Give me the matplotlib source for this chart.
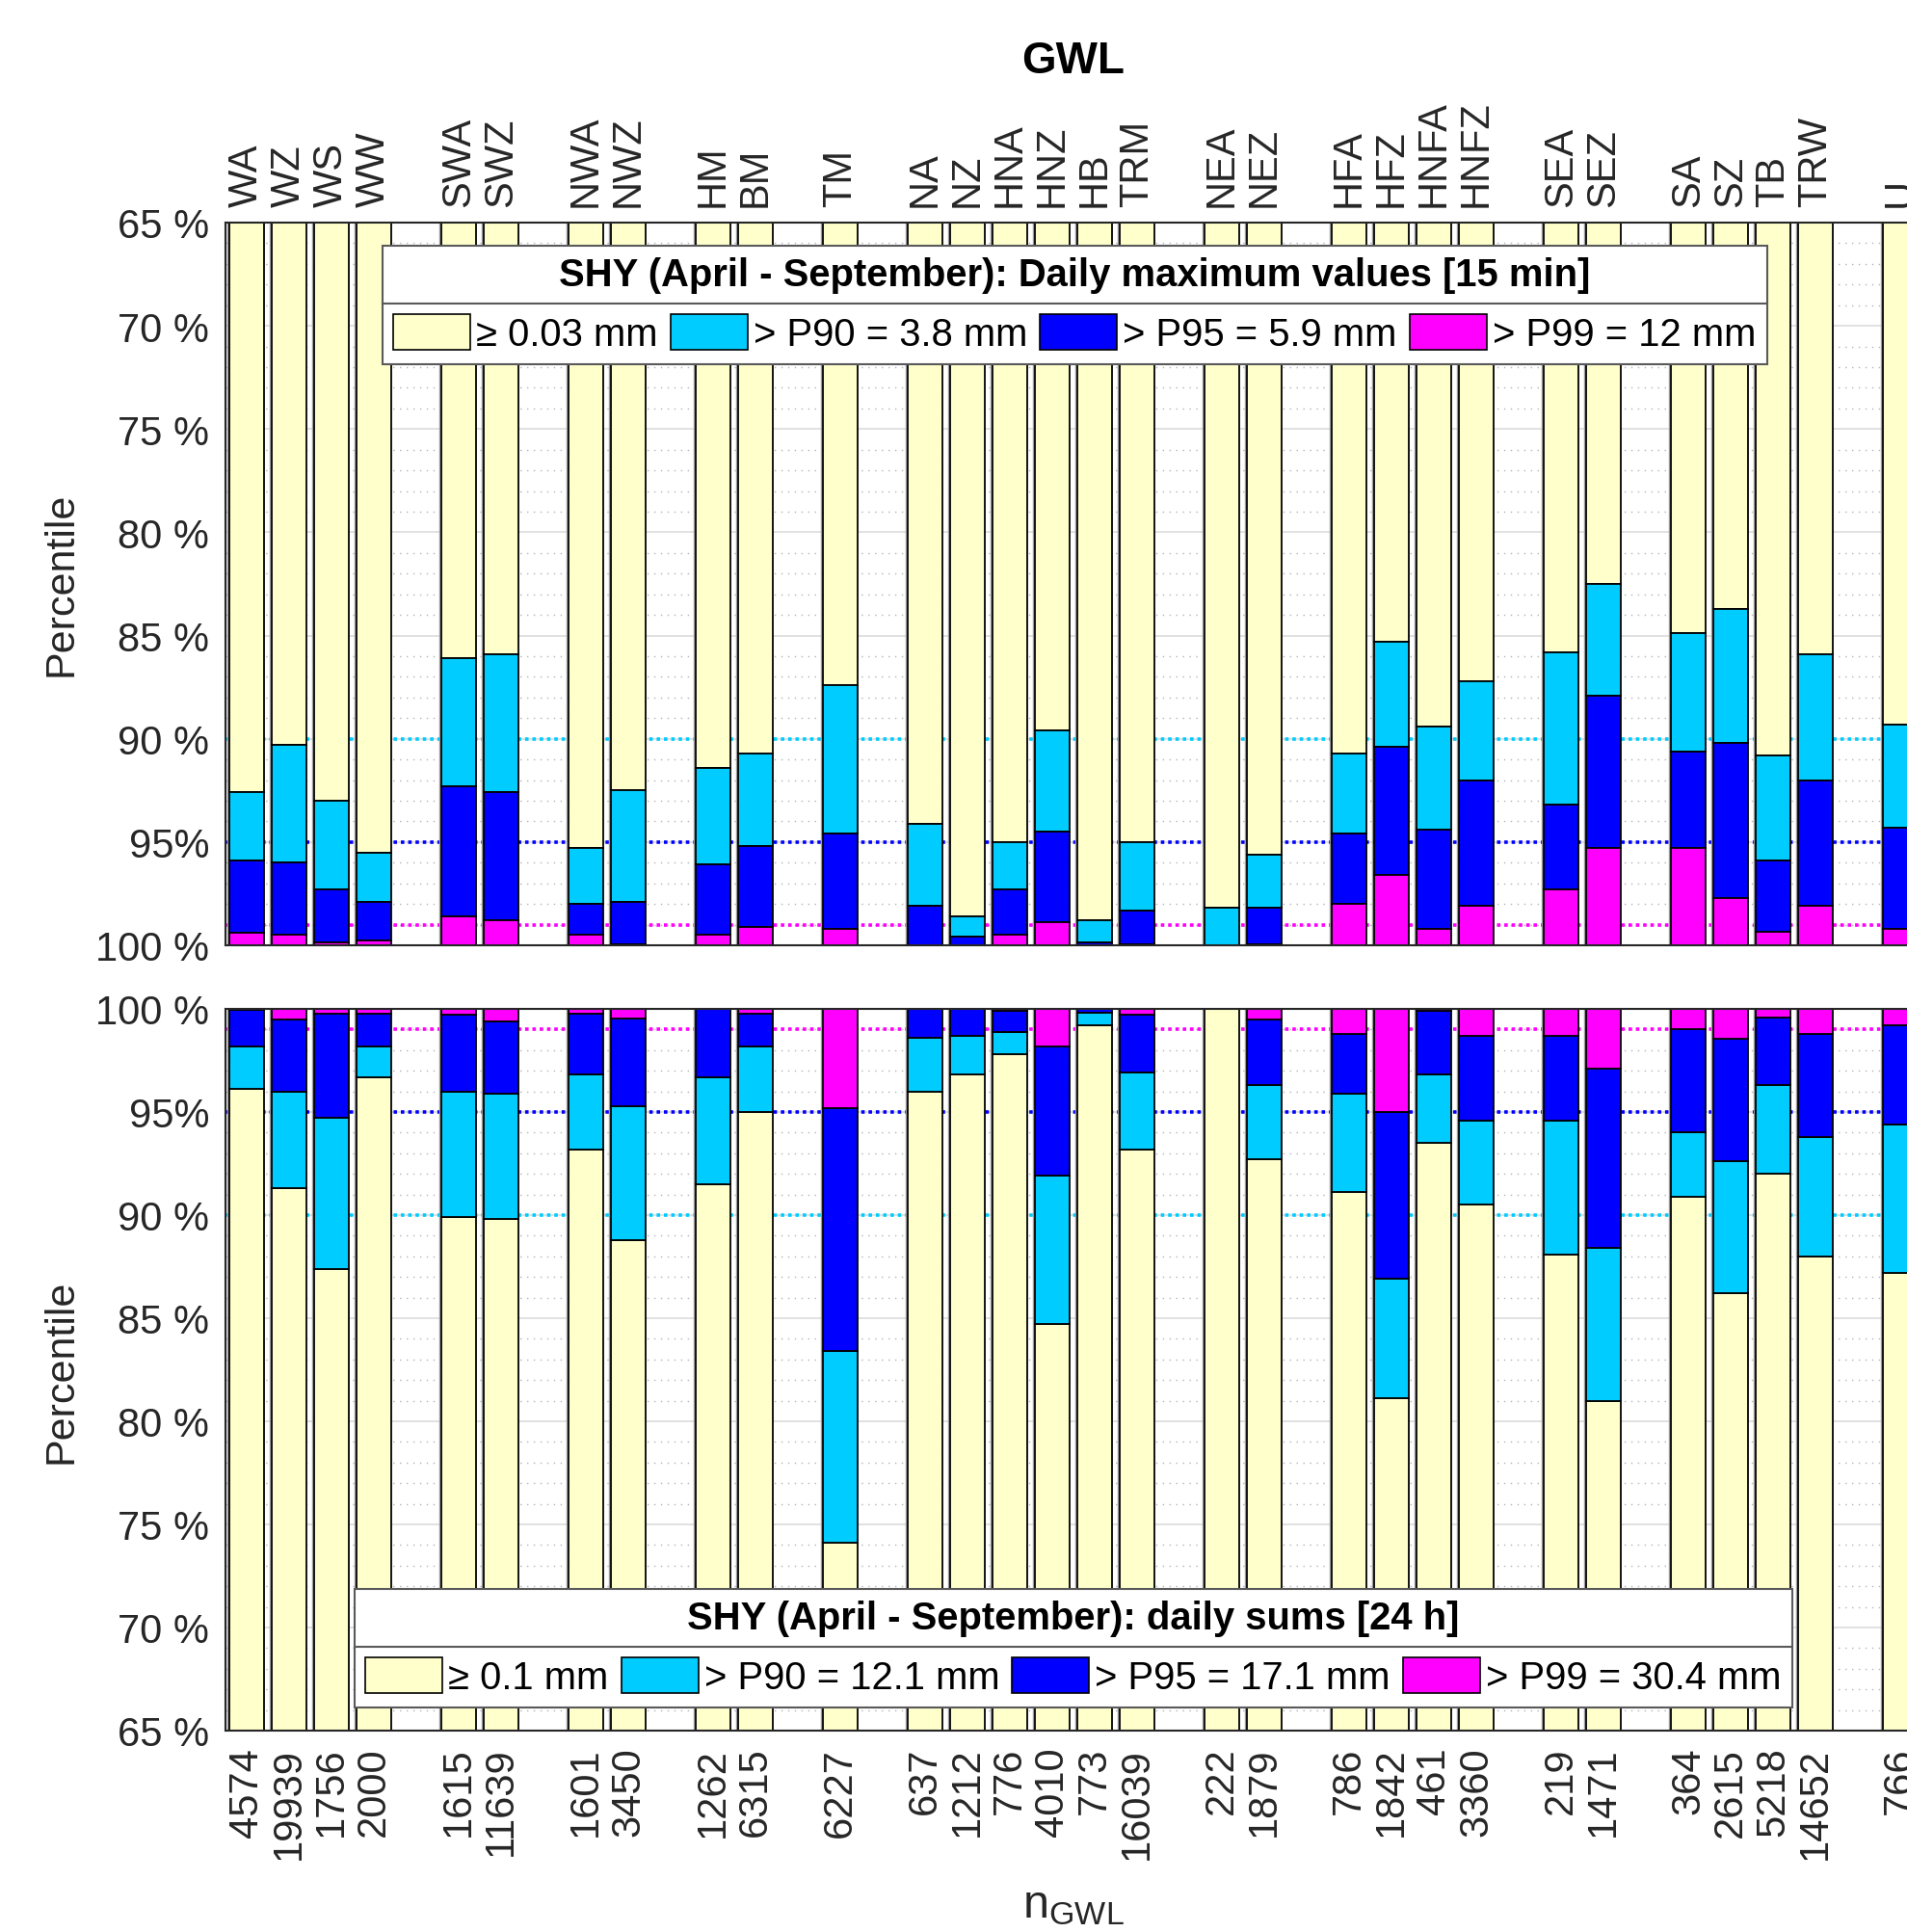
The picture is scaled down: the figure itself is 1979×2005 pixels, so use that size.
import numpy as np
import matplotlib.pyplot as plt
from matplotlib.patches import Patch
from matplotlib.lines import Line2D

plt.rcParams['font.family'] = ['Liberation Sans', 'DejaVu Sans']

# weather types (GWL), one gap between groups
gwl_groups = [
    ['WA', 'WZ', 'WS', 'WW'], ['SWA', 'SWZ'], ['NWA', 'NWZ'], ['HM', 'BM'], ['TM'],
    ['NA', 'NZ', 'HNA', 'HNZ', 'HB', 'TRM'], ['NEA', 'NEZ'], ['HFA', 'HFZ', 'HNFA', 'HNFZ'],
    ['SEA', 'SEZ'], ['SA', 'SZ', 'TB', 'TRW'], ['U'],
]
n_gwl = [4574, 19939, 1756, 2000, 1615, 11639, 1601, 3450, 1262, 6315, 6227,
         637, 1212, 776, 4010, 773, 16039, 222, 1879, 786, 1842, 461, 3360,
         219, 1471, 364, 2615, 5218, 14652, 766]

# percentile at which each class starts: daily maximum values [15 min]
max15_p90 = [92.6, 90.3, 93.0, 95.5, 86.1, 85.9, 95.3, 92.5, 91.4, 90.7, 87.4,
             94.1, 98.6, 95.0, 89.6, 98.8, 95.0, 98.2, 95.6, 90.7, 85.3, 89.4, 87.2,
             85.8, 82.5, 84.9, 83.7, 90.8, 85.9, 89.3]
max15_p95 = [95.9, 96.0, 97.3, 97.9, 92.3, 92.6, 98.0, 97.9, 96.1, 95.2, 94.6,
             98.1, 99.6, 97.3, 94.5, 99.85, 98.3, 100, 98.2, 94.6, 90.4, 94.4, 92.0,
             93.2, 87.9, 90.6, 90.2, 95.9, 92.0, 94.3]
max15_p99 = [99.4, 99.5, 99.86, 99.76, 98.6, 98.8, 99.5, 99.95, 99.5, 99.1, 99.2,
             100, 100, 99.5, 98.9, 100, 99.95, 100, 99.95, 98.0, 96.6, 99.2, 98.1,
             97.3, 95.3, 95.3, 97.7, 99.35, 98.1, 99.2]

# daily sums [24 h]
sum24_p90 = [96.1, 91.3, 87.4, 96.7, 89.9, 89.8, 93.2, 88.8, 91.5, 95.0, 74.1,
             96.0, 96.8, 97.8, 84.7, 99.2, 93.2, 100, 92.7, 91.1, 81.1, 93.5, 90.5,
             88.1, 81.0, 90.9, 86.2, 92.0, 88.0, 87.2]
sum24_p95 = [98.2, 96.0, 94.7, 98.2, 96.0, 95.9, 96.8, 95.3, 96.7, 98.2, 83.4,
             98.6, 98.7, 98.9, 91.9, 99.8, 96.9, 100, 96.3, 95.9, 86.9, 96.8, 94.6,
             94.6, 88.4, 94.0, 92.6, 96.3, 93.8, 94.4]
sum24_p99 = [99.95, 99.5, 99.75, 99.75, 99.7, 99.4, 99.75, 99.55, 100, 99.75, 95.2,
             100, 100, 99.9, 98.2, 100, 99.7, 100, 99.5, 98.8, 95.0, 99.9, 98.7,
             98.7, 97.1, 99.0, 98.55, 99.6, 98.8, 99.2]

labels_15 = ['\u2265 0.03 mm', '> P90 = 3.8 mm', '> P95 = 5.9 mm', '> P99 = 12 mm']
labels_24 = ['\u2265 0.1 mm', '> P90 = 12.1 mm', '> P95 = 17.1 mm', '> P99 = 30.4 mm']
title_15 = 'SHY (April - September): Daily maximum values [15 min]'
title_24 = 'SHY (April - September): daily sums [24 h]'

y_ticks = [65, 70, 75, 80, 85, 90, 95, 100]
y_ticklabels = ['65 %', '70 %', '75 %', '80 %', '85 %', '90 %', '95%', '100 %']

colors = ['#FFFFCC', '#00CCFF', '#0000FF', '#FF00FF']
TXT = '#262626'
FS = 30
LEG_FS = 28.8
W, H = 1979, 2006


def gwl_positions(groups):
    pos = []
    x = 1
    for g in groups:
        for name in g:
            pos.append(x)
            x += 1
        x += 1
    return np.array(pos)


def draw_panel(ax, x, p90, p95, p99, invert):
    lo, hi = 65, 100
    ax.set_xlim(0.5, 40.5)
    if invert:
        ax.set_ylim(hi, lo)
    else:
        ax.set_ylim(lo, hi)
    ax.set_yticks(y_ticks)
    ax.set_yticklabels(y_ticklabels)
    ax.set_yticks(np.arange(lo, hi + 1, 1), minor=True)
    ax.grid(which='major', axis='y', color='#dcdcdc', lw=1.2)
    ax.grid(which='minor', axis='y', color='#b4b4b4', lw=1.0, ls=(0, (1, 4)))
    ax.set_axisbelow(True)
    for v, c in zip([90, 95, 99], colors[1:]):
        ax.axhline(v, color=c, lw=2.6, ls=(0, (1, 1.1)), zorder=1)
    ax.vlines(x - 0.45, lo, hi, color='#9a9a9a', lw=1.0, zorder=1.5)

    start = np.full(len(x), float(lo))
    ends = [np.array(p90), np.array(p95), np.array(p99), np.full(len(x), float(hi))]
    for end, col in zip(ends, colors):
        h = end - start
        keep = h > 0
        ax.bar(x[keep], h[keep], bottom=start[keep], width=0.8, color=col,
               edgecolor='black', lw=1.3, zorder=2)
        start = end

    ax.tick_params(axis='both', which='both', length=0, labelsize=FS, labelcolor=TXT, pad=12)
    for s in ax.spines.values():
        s.set_color(TXT)
        s.set_linewidth(1.5)


def add_legend(fig, ax, title, labels, left, top):
    handles = [Patch(facecolor=c, edgecolor='black', lw=1.2) for c in colors]
    leg = ax.legend(handles, labels, ncol=4, title=title, loc='upper left',
                    bbox_to_anchor=(left / W, 1 - top / H), bbox_transform=fig.transFigure,
                    fontsize=LEG_FS, title_fontproperties={'weight': 'bold', 'size': LEG_FS},
                    frameon=True, fancybox=False, edgecolor='#5a5a5a', framealpha=1,
                    handlelength=2.0, handleheight=1.05, handletextpad=0.15,
                    columnspacing=0.33, borderpad=0.28, labelspacing=0.55, borderaxespad=0)
    leg.get_frame().set_linewidth(1.5)
    return leg


def add_separator(fig, leg):
    r = fig.canvas.get_renderer()
    fb = leg.get_window_extent(r)
    tb = leg.get_title().get_window_extent(r)
    hb = leg.legend_handles[0].get_window_extent(r)
    y = (tb.y0 + hb.y1) / 2
    inv = fig.transFigure.inverted()
    (x0, yf), (x1, _) = inv.transform([(fb.x0, y), (fb.x1, y)])
    fig.add_artist(Line2D([x0, x1], [yf, yf], transform=fig.transFigure,
                          color='#5a5a5a', lw=1.5, zorder=10))


def main():
    x = gwl_positions(gwl_groups)
    names = [n for g in gwl_groups for n in g]

    fig = plt.figure(figsize=(W / 100, H / 100), dpi=100)
    left = 234 / W
    width = 1760 / W
    ax1 = fig.add_axes([left, 1 - 982 / H, width, 750 / H])
    ax2 = fig.add_axes([left, 1 - 1797 / H, width, 749 / H])

    draw_panel(ax1, x, max15_p90, max15_p95, max15_p99, invert=True)
    ax1.xaxis.tick_top()
    ax1.set_xticks(x)
    ax1.set_xticklabels(names, rotation=90)

    draw_panel(ax2, x, sum24_p90, sum24_p95, sum24_p99, invert=False)
    ax2.set_xticks(x)
    ax2.set_xticklabels([str(n) for n in n_gwl], rotation=90)

    xc = (234 + 1760 / 2) / W
    fig.text(xc, 1 - 64 / H, 'GWL', ha='center', va='center', fontsize=33, fontweight='bold')
    fig.text(64 / W, 1 - 606 / H, 'Percentile', rotation=90, ha='center', va='center',
             fontsize=31, color=TXT)
    fig.text(64 / W, 1 - 1423 / H, 'Percentile', rotation=90, ha='center', va='center',
             fontsize=31, color=TXT)
    fig.text(xc, 1 - 1978 / H, r'$\mathregular{n_{GWL}}$', ha='center', va='center',
             fontsize=35, color=TXT)

    leg1 = add_legend(fig, ax1, title_15, labels_15, 397, 256)
    leg2 = add_legend(fig, ax2, title_24, labels_24, 368, 1650)
    fig.canvas.draw()
    add_separator(fig, leg1)
    add_separator(fig, leg2)

    fig.savefig('out.png', dpi=100)


if __name__ == '__main__':
    main()
